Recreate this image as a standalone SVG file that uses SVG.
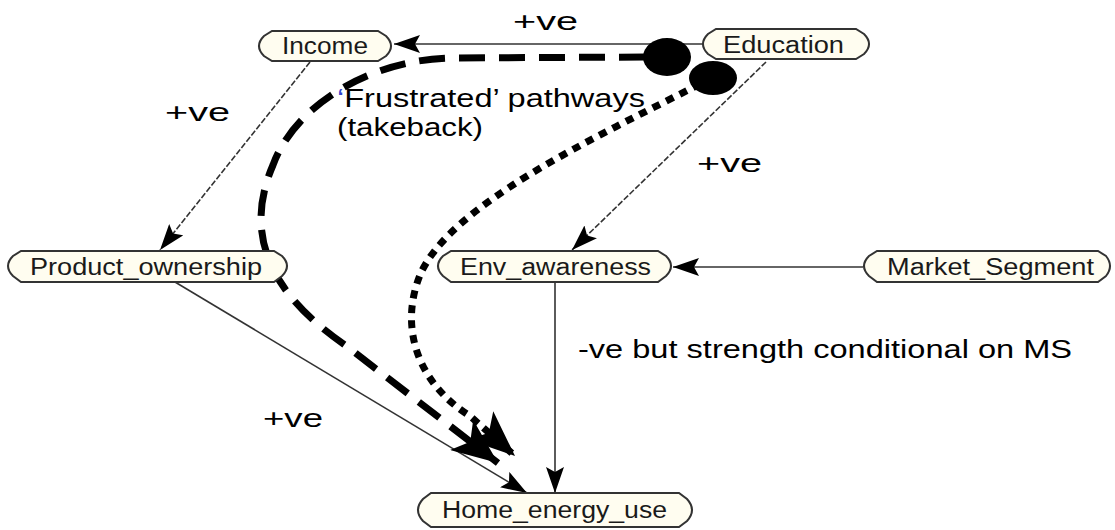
<svg xmlns="http://www.w3.org/2000/svg" width="1115" height="530" viewBox="0 0 1115 530">
<style>
.node{fill:#FFFDF0;stroke:#333;stroke-width:2}
.nt{font-family:"Liberation Sans",Arial,sans-serif;font-size:23px;fill:#1a1a1a}
.lb{font-family:"Liberation Sans",Arial,sans-serif;font-size:25px;fill:#000}
.edge{fill:none;stroke:#333;stroke-width:1.6}
.dash{stroke-dasharray:6 2}
.thick{fill:none;stroke:#000;stroke-width:7}
</style>
<defs>
<marker id="arr" viewBox="0 0 26 18" markerWidth="26" markerHeight="18" refX="26" refY="9" markerUnits="userSpaceOnUse" orient="auto">
<path d="M0,0 L26,9 L0,18 L5,9 Z" fill="#000"/>
</marker>
<marker id="big" viewBox="0 0 46 38" markerWidth="46" markerHeight="38" refX="46" refY="19" markerUnits="userSpaceOnUse" orient="auto">
<path d="M0,0 L46,19 L0,38 L11,19 Z" fill="#000"/>
</marker>
</defs>
<rect width="1115" height="530" fill="#fff"/>
<g id="connectors">
<line class="edge" x1="702" y1="44" x2="394" y2="44" marker-end="url(#arr)"/>
<line class="edge dash" x1="310" y1="62" x2="160" y2="250" marker-end="url(#arr)"/>
<line class="edge dash" x1="766" y1="62" x2="572" y2="250" marker-end="url(#arr)"/>
<line class="edge" x1="863" y1="267" x2="673" y2="267" marker-end="url(#arr)"/>
<line class="edge" x1="175" y1="282" x2="527" y2="493" marker-end="url(#arr)"/>
<line class="edge" x1="555" y1="282" x2="555" y2="493" marker-end="url(#arr)"/>
<path class="thick" style="stroke-dasharray:26 14" d="M645,57 L450,58 C370,60 295,105 273,165 C245,230 265,290 345,345 L498,463" marker-end="url(#big)"/>
<path class="thick" style="stroke-dasharray:8 7" d="M700,84 C590,140 450,205 420,275 C398,330 420,385 470,416 L515,456" marker-end="url(#big)"/>
<ellipse cx="667" cy="57" rx="24" ry="19" fill="#000"/>
<ellipse cx="713" cy="78" rx="24" ry="17" fill="#000"/>
</g>
<g id="Income">
<path class="node" d="M272,31 H378 L386,36 Q396,46 386,56 L378,61 H272 L264,56 Q254,46 264,36 Z"/>
<text class="nt" x="282" y="54" textLength="86" lengthAdjust="spacingAndGlyphs">Income</text>
</g>
<g id="Education">
<path class="node" d="M716,29 H856 L864,34 Q874,44 864,54 L856,59 H716 L708,54 Q698,44 708,34 Z"/>
<text class="nt" x="723" y="53" textLength="121" lengthAdjust="spacingAndGlyphs">Education</text>
</g>
<g id="Product_ownership">
<path class="node" d="M21,251 H274 L282,256 Q292,266 282,276 L274,282 H21 L13,276 Q3,266 13,256 Z"/>
<text class="nt" x="30" y="275" textLength="232" lengthAdjust="spacingAndGlyphs">Product_ownership</text>
</g>
<g id="Env_awareness">
<path class="node" d="M451,251 H658 L666,256 Q676,266 666,276 L658,282 H451 L443,276 Q433,266 443,256 Z"/>
<text class="nt" x="460" y="275" textLength="191" lengthAdjust="spacingAndGlyphs">Env_awareness</text>
</g>
<g id="Market_Segment">
<path class="node" d="M877,251 H1098 L1106,256 Q1114,266 1106,276 L1098,282 H877 L869,276 Q859,266 869,256 Z"/>
<text class="nt" x="887" y="275" textLength="207" lengthAdjust="spacingAndGlyphs">Market_Segment</text>
</g>
<g id="Home_energy_use">
<path class="node" d="M431,493 H679 L687,499 Q697,510 687,521 L679,527 H431 L423,521 Q413,510 423,499 Z"/>
<text class="nt" x="442" y="518" textLength="225" lengthAdjust="spacingAndGlyphs">Home_energy_use</text>
</g>
<g id="labels">
<text class="lb" x="513" y="30" textLength="65" lengthAdjust="spacingAndGlyphs">+ve</text>
<text class="lb" x="165" y="121" textLength="65" lengthAdjust="spacingAndGlyphs">+ve</text>
<text class="lb" x="697" y="172" textLength="65" lengthAdjust="spacingAndGlyphs">+ve</text>
<text class="lb" x="263" y="427" textLength="60" lengthAdjust="spacingAndGlyphs">+ve</text>
<text class="lb" x="337" y="107" textLength="308" lengthAdjust="spacingAndGlyphs"><tspan fill="#3344cc">‘</tspan>Frustrated’ pathways</text>
<text class="lb" x="337" y="136" textLength="146" lengthAdjust="spacingAndGlyphs">(takeback)</text>
<text class="lb" x="578" y="358" textLength="494" lengthAdjust="spacingAndGlyphs">-ve but strength conditional on MS</text>
</g>
</svg>
